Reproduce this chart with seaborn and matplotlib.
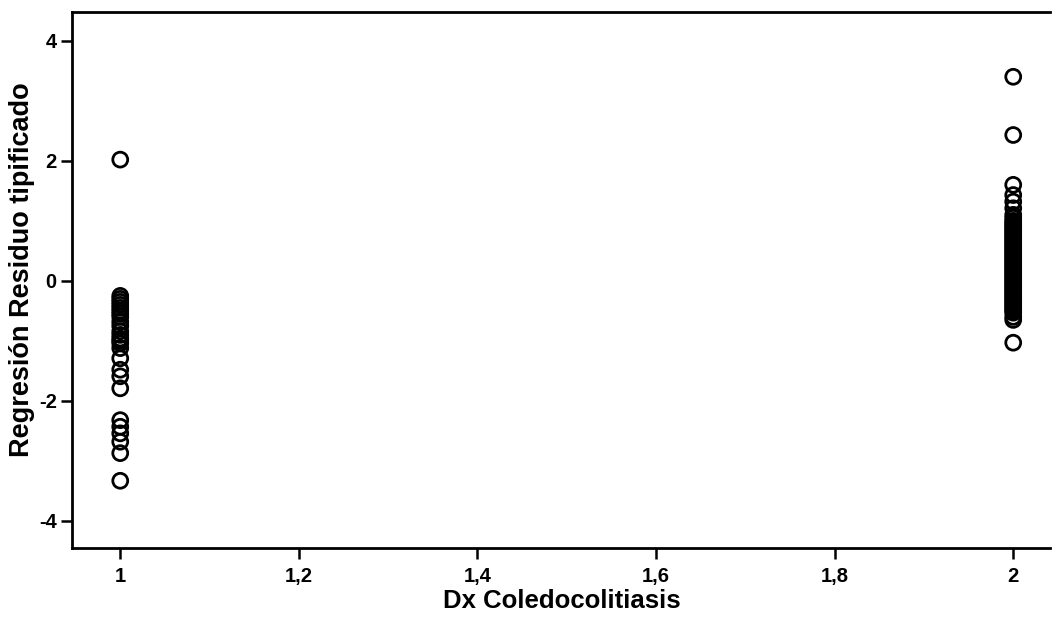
import pandas as pd
import matplotlib.pyplot as plt
import seaborn as sns
import numpy as np

# valores
resid_grupo1 = [2.02, -0.25, -0.3, -0.35, -0.4, -0.45, -0.5, -0.55, -0.6, -0.68,
                -0.75, -0.84, -0.9, -0.96, -1.0, -1.04, -1.12, -1.29, -1.48, -1.59,
                -1.79, -2.32, -2.43, -2.54, -2.68, -2.87, -3.33]
resid_grupo2 = [3.40, 2.43, 1.60, 1.43, 1.32, 1.21, 1.10, 1.05, 1.0, 0.97,
                0.94, 0.91, 0.88, 0.85, 0.82, 0.79, 0.76, 0.73, 0.70, 0.67,
                0.64, 0.61, 0.58, 0.55, 0.52, 0.49, 0.46, 0.43, 0.40, 0.37,
                0.34, 0.31, 0.28, 0.25, 0.22, 0.19, 0.16, 0.13, 0.10, 0.07,
                0.04, 0.01, -0.02, -0.05, -0.08, -0.11, -0.14, -0.17, -0.20, -0.23,
                -0.26, -0.29, -0.32, -0.35, -0.38, -0.41, -0.44, -0.47, -0.50,
                -0.53, -0.60, -0.65, -1.03]

x_ticks = [1, 1.2, 1.4, 1.6, 1.8, 2]
x_tick_labels = ["1", "1,2", "1,4", "1,6", "1,8", "2"]
y_ticks = [-4, -2, 0, 2, 4]

df = pd.DataFrame({
    "dx": [1] * len(resid_grupo1) + [2] * len(resid_grupo2),
    "resid": resid_grupo1 + resid_grupo2,
})

sns.set_style("white")
plt.rcParams['font.family'] = ['Liberation Sans', 'DejaVu Sans']
plt.rcParams['axes.unicode_minus'] = False
plt.rcParams['text.color'] = 'black'
plt.rcParams['axes.labelcolor'] = 'black'
plt.rcParams['xtick.color'] = 'black'
plt.rcParams['ytick.color'] = 'black'

fig = plt.figure(figsize=(10.53, 6.19), dpi=100)
ax = fig.add_axes([0.0684, 0.1147, 0.9286, 0.866])

sns.scatterplot(data=df, x="dx", y="resid", ax=ax, s=115, marker="o",
                facecolors="none", edgecolor="black", linewidth=2.0)

ax.set_xlim(0.946, 2.041)
ax.set_ylim(-4.45, 4.48)
ax.set_xticks(x_ticks)
ax.set_xticklabels(x_tick_labels)
ax.set_yticks(y_ticks)
ax.tick_params(axis="both", direction="out", length=8, width=1.8,
               labelsize=14.5, color="black", labelcolor="black",
               bottom=True, left=True, pad=3)
ax.tick_params(axis="x", pad=6)
for lbl in ax.get_xticklabels() + ax.get_yticklabels():
    lbl.set_fontweight("bold")

ax.set_xlabel("Dx Coledocolitiasis", fontsize=18.5, fontweight="bold")
ax.xaxis.set_label_coords(0.501, -0.099)
ax.xaxis.label.set_va("center")
ax.set_ylabel("Regresión Residuo tipificado", fontsize=19.5, fontweight="bold")
ax.yaxis.set_label_coords(-0.051, 0.52)
ax.yaxis.label.set_va("center")

for side in ["left", "bottom", "top"]:
    ax.spines[side].set_linewidth(2)
    ax.spines[side].set_color("black")
ax.spines["right"].set_visible(False)

fig.savefig("out.png", dpi=100)
